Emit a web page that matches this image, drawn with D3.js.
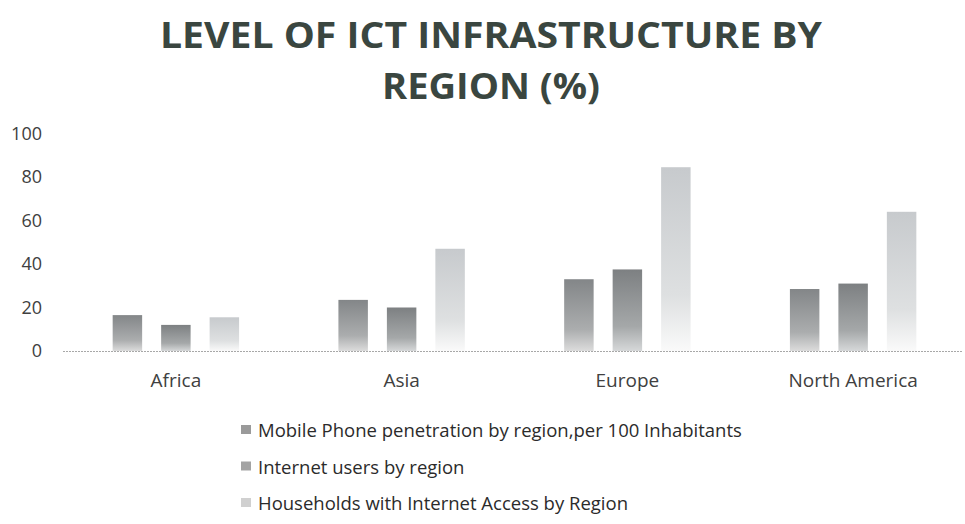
<!DOCTYPE html>
<html>
<head>
<meta charset="utf-8">
<script src="https://cdn.jsdelivr.net/npm/d3@7"></script>
<style>
  body { margin: 0; background: #fff; }
  text { font-family: "Open Sans", "DejaVu Sans", sans-serif; }
</style>
</head>
<body>
<svg id="chart" width="965" height="524"></svg>
<script>
const regions = ["Africa", "Asia", "Europe", "North America"];
const seriesNames = [
  "Mobile Phone penetration by region,per 100 Inhabitants",
  "Internet users by region",
  "Households with Internet Access by Region",
];
const mobilePhone = [16.5, 23.5, 33, 28.5];
const internetUsers = [12, 20, 37.5, 31];
const householdsAccess = [15.5, 47, 84.5, 64];
const yTicks = [0, 20, 40, 60, 80, 100];
const titleLines = ["LEVEL OF ICT INFRASTRUCTURE BY", "REGION (%)"];

const seriesValues = [mobilePhone, internetUsers, householdsAccess];

// gradient top / bottom for each series, legend swatch colour
const barStyles = [
  { top: "#838688", bottom: "#dcdcdc", swatch: "#9a9a9a" },
  { top: "#7d8082", bottom: "#d6d8d9", swatch: "#a3a3a3" },
  { top: "#c7cacd", bottom: "#fafafa", swatch: "#d0d0d0" },
];

const svg = d3.select("#chart");

const x0 = d3
  .scaleBand()
  .domain(regions)
  .range([63, 966])
  .paddingInner(0.44)
  .paddingOuter(0.22);

const x1 = d3
  .scaleBand()
  .domain(d3.range(seriesNames.length))
  .range([0, x0.bandwidth()])
  .paddingInner(0.392)
  .paddingOuter(0);

const y = d3.scaleLinear().domain([0, 100]).range([351, 133.5]);

// gradients
const defs = svg.append("defs");
barStyles.forEach((s, i) => {
  const g = defs
    .append("linearGradient")
    .attr("id", `grad${i}`)
    .attr("x1", 0)
    .attr("y1", 0)
    .attr("x2", 0)
    .attr("y2", 1);
  g.append("stop").attr("offset", "0%").attr("stop-color", s.top);
  g.append("stop").attr("offset", "70%").attr("stop-color", d3.interpolateRgb(s.top, s.bottom)(0.45));
  g.append("stop").attr("offset", "100%").attr("stop-color", s.bottom);
});

// title
svg
  .append("g")
  .selectAll("text")
  .data(titleLines)
  .enter()
  .append("text")
  .attr("x", 491)
  .attr("y", (d, i) => 48 + i * 51)
  .attr("text-anchor", "middle")
  .attr("font-size", 36)
  .attr("font-weight", 700)
  .attr("fill", "#3a4640")
  .attr("textLength", (d, i) => (i === 0 ? 662 : 218))
  .attr("lengthAdjust", "spacingAndGlyphs")
  .text((d) => d);

// y axis labels only
const yAxis = svg
  .append("g")
  .attr("transform", "translate(63,0)")
  .call(d3.axisLeft(y).tickValues(yTicks).tickSize(0).tickPadding(21));
yAxis.select(".domain").remove();
yAxis
  .selectAll("text")
  .attr("font-size", 18)
  .attr("font-family", "'Open Sans', sans-serif")
  .attr("fill", "#404040");

// bars
const groups = svg
  .append("g")
  .selectAll("g")
  .data(regions)
  .enter()
  .append("g")
  .attr("transform", (d) => `translate(${x0(d)},0)`);

groups
  .selectAll("rect")
  .data((d, ri) => seriesValues.map((vals, si) => ({ si, v: vals[ri] })))
  .enter()
  .append("rect")
  .attr("x", (d) => x1(d.si))
  .attr("y", (d) => y(d.v))
  .attr("width", x1.bandwidth())
  .attr("height", (d) => y(0) - y(d.v))
  .attr("fill", (d) => `url(#grad${d.si})`);

// baseline
svg
  .append("line")
  .attr("x1", 63)
  .attr("x2", 963)
  .attr("y1", y(0) + 0.5)
  .attr("y2", y(0) + 0.5)
  .attr("stroke", "#a8a8a8")
  .attr("stroke-width", 1)
  .attr("stroke-dasharray", "2,1");

// category labels
const xAxis = svg
  .append("g")
  .attr("transform", `translate(0,${y(0)})`)
  .call(d3.axisBottom(x0).tickSize(0).tickPadding(22.5));
xAxis.select(".domain").remove();
xAxis
  .selectAll("text")
  .attr("font-size", 19)
  .attr("font-family", "'Open Sans', sans-serif")
  .attr("fill", "#404040");

// legend
const legend = svg
  .append("g")
  .selectAll("g")
  .data(seriesNames)
  .enter()
  .append("g")
  .attr("transform", (d, i) => `translate(241,${437 + i * 36.5})`);

legend
  .append("rect")
  .attr("x", 0)
  .attr("y", -12)
  .attr("width", 10)
  .attr("height", 9)
  .attr("fill", (d, i) => barStyles[i].swatch);

legend
  .append("text")
  .attr("x", 17)
  .attr("y", 0)
  .attr("font-size", 18.5)
  .attr("fill", "#2b2b2b")
  .text((d) => d);
</script>
</body>
</html>
